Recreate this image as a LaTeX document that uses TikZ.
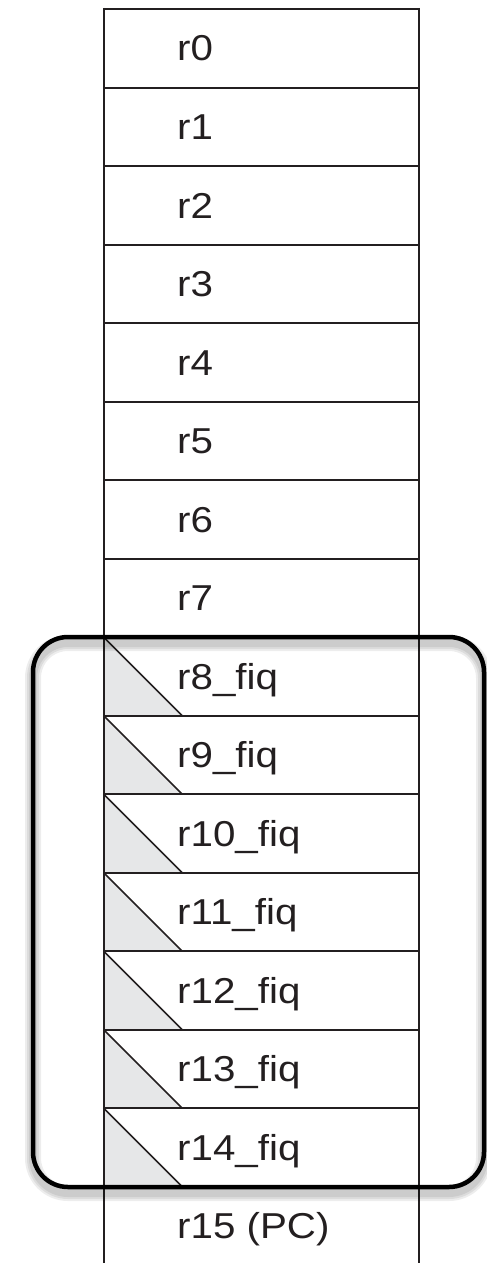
\documentclass[tikz,border=0pt]{standalone}
\usepackage{fontspec}
\setmainfont{Liberation Sans}[FakeStretch=1.12]
\usepackage{xcolor}

\definecolor{regline}{HTML}{231F20}
\definecolor{fiqgrey}{HTML}{E6E7E8}

\tikzset{
  regrule/.style={draw=regline, line width=2pt},
  fiqcut/.style={fill=fiqgrey, draw=regline, line width=1.6pt, line join=miter},
  reglabel/.style={anchor=base west, inner sep=0pt, text=regline, font=\fontsize{36}{40}\selectfont},
  bankbox/.style={draw=black, line width=4.5pt, rounded corners=35pt},
  bankshade/.style={draw=black, opacity=0.07, rounded corners=35pt}
}

\begin{document}
\begin{tikzpicture}[x=1pt, y=-1pt]
\useasboundingbox (0,0) rectangle (487,1263);

% Shaded corners of the banked rows
\foreach \i in {8,...,14} {
    \fill[fiqgrey] (103.5,9+78.5*\i) -- (182,9+78.5*\i+78.5) -- (103.5,9+78.5*\i+78.5) -- cycle;
    \draw[fiqcut, fill=none] (103.5,9+78.5*\i) -- (182,9+78.5*\i+78.5);
}

% Draw register rows
\foreach \i in {0,...,15} {
    \draw[regrule] (103.5,9+78.5*\i) -- (419,9+78.5*\i);
}
\draw[regrule] (103.5,8) -- (103.5,1263);
\draw[regrule] (419,8) -- (419,1263);

% Register names
\foreach \i in {0,...,7} {
    \node[reglabel] (r\i) at (177,61+78.5*\i) {r\i};
}
\foreach \i in {8,...,14} {
    \node[reglabel] (r\i) at (177,61+78.5*\i) {r\i\_fiq};
}
\node[reglabel] (r15) at (177,61+78.5*15) {r15 (PC)};

% FIQ bank outline
\foreach \w in {16,12,8} {
    \draw[bankshade, line width=\w pt] (33,643) rectangle (484,1193);
}
\draw[bankbox] (33,637) rectangle (484,1187);
\end{tikzpicture}
\end{document}
